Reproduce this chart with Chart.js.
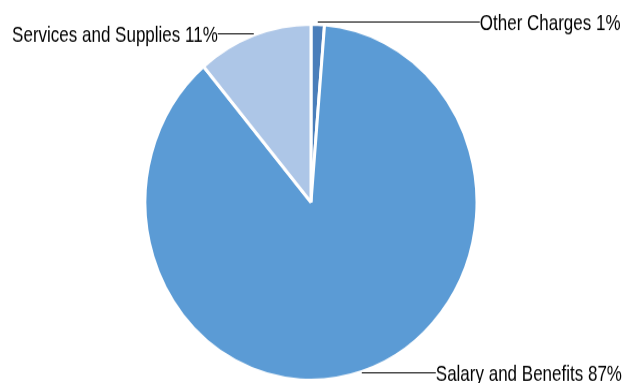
<!DOCTYPE html>
<html><head><meta charset="utf-8">
<script src="https://cdn.jsdelivr.net/npm/chart.js@4"></script>
<style>
html,body{margin:0;padding:0;background:#fff;overflow:hidden;width:634px;height:383px}
#wrap{width:634px;height:357px;transform:scaleY(1.0728);transform-origin:0 0}
</style></head><body>
<div id="wrap"><canvas id="c" width="634" height="357"></canvas></div>
<script>
const categories = ['Other Charges', 'Salary and Benefits', 'Services and Supplies'];
const shares = [1.3, 87.5, 11.2];
const labelPercents = [1, 87, 11];
const colors = ['#4A7EBA', '#5B9BD5', '#ADC6E7'];

// leader-line styling: side, line length, vertical nudge (canvas px)
const leaderStyle = [
  {side: 'right', len: 162, dy: -2.5},
  {side: 'right', len: 74, dy: 0},
  {side: 'left', len: 36, dy: -2}
];

const labelPlugin = {
  id: 'leaderLabels',
  afterDatasetsDraw(chart) {
    const ctx = chart.ctx;
    const meta = chart.getDatasetMeta(0);
    ctx.save();
    ctx.font = '17px "Liberation Sans", Arial, sans-serif';
    ctx.fillStyle = '#000';
    ctx.strokeStyle = '#000';
    ctx.lineWidth = 1;
    meta.data.forEach((arc, i) => {
      const p = arc.getProps(['x', 'y', 'startAngle', 'endAngle', 'outerRadius'], true);
      const mid = (p.startAngle + p.endAngle) / 2;
      const ax = p.x + Math.cos(mid) * p.outerRadius;
      const ay = p.y + Math.sin(mid) * p.outerRadius + leaderStyle[i].dy;
      const st = leaderStyle[i];
      const ex = st.side === 'right' ? ax + st.len : ax - st.len;
      const yy = Math.round(ay) + 0.5;
      ctx.beginPath();
      ctx.moveTo(ax, yy);
      ctx.lineTo(ex, yy);
      ctx.stroke();
      const text = categories[i] + ' ' + labelPercents[i] + '%';
      ctx.textAlign = st.side === 'right' ? 'left' : 'right';
      ctx.textBaseline = 'alphabetic';
      ctx.save();
      ctx.translate(ex, yy + 7);
      ctx.scale(1, 1.2);
      ctx.fillText(text, 0, 0);
      ctx.restore();
    });
    ctx.restore();
  }
};

new Chart(document.getElementById('c'), {
  type: 'pie',
  data: {
    labels: categories,
    datasets: [{
      data: shares,
      backgroundColor: colors,
      borderColor: '#ffffff',
      borderWidth: 3
    }]
  },
  options: {
    responsive: false,
    animation: false,
    radius: 166,
    layout: {padding: {left: 0, right: 12, top: 20, bottom: 0}},
    plugins: {legend: {display: false}, tooltip: {enabled: false}}
  },
  plugins: [labelPlugin]
});
</script>
</body></html>
